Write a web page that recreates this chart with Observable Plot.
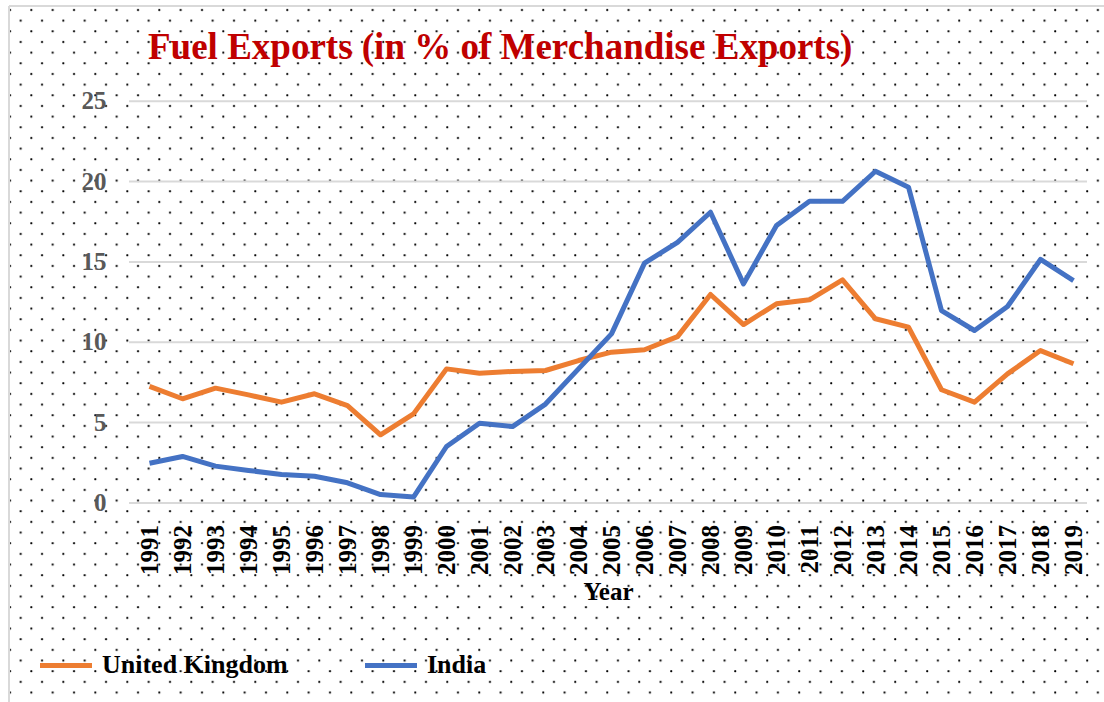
<!DOCTYPE html>
<html>
<head>
<meta charset="utf-8">
<script src="https://cdn.jsdelivr.net/npm/d3@7"></script>
<script src="https://cdn.jsdelivr.net/npm/@observablehq/plot@0.6"></script>
<style>
  html, body { margin: 0; padding: 0; background: #fff; }
  body { width: 1104px; height: 702px; position: relative; overflow: hidden;
         font-family: "Liberation Serif", "Times New Roman", serif; }
  #bg { position: absolute; left: 0; top: 0; }
  #title { position: absolute; left: 148px; top: 28px; font-size: 37px; line-height: 37px;
           font-weight: bold; color: #C00000; white-space: nowrap; }
  #chart { position: absolute; left: 0; top: 80px; }
  #legend { position: absolute; left: 0; top: 651px; width: 1104px; height: 28px; }
  .item { position: absolute; top: 0; height: 28px; display: flex; align-items: center; }
  .sw { width: 52px; height: 5px; margin-right: 10px; }
  .lab { font-size: 26px; line-height: 26px; font-weight: bold; color: #000; white-space: nowrap; }
</style>
</head>
<body>
<svg id="bg" width="1104" height="702">
  <defs>
    <pattern id="dots" patternUnits="userSpaceOnUse" x="5" y="5" width="21.33" height="21.33">
      <circle cx="15.7" cy="15.7" r="1.1" fill="#000"/>
      <circle cx="5.03" cy="5.03" r="1.1" fill="#000"/>
    </pattern>
  </defs>
  <rect x="0" y="0" width="1104" height="702" fill="#fff"/>
  <rect x="10" y="7" width="1094" height="695" fill="url(#dots)"/>
  <line x1="9" y1="6" x2="1104" y2="6" stroke="#d9d9d9" stroke-width="2"/>
  <line x1="9" y1="6" x2="9" y2="702" stroke="#d9d9d9" stroke-width="2"/>
</svg>
<div id="title"></div>
<div id="chart"></div>
<div id="legend"></div>
<script>
// ---- data ----
const years = [1991,1992,1993,1994,1995,1996,1997,1998,1999,2000,
               2001,2002,2003,2004,2005,2006,2007,2008,2009,2010,
               2011,2012,2013,2014,2015,2016,2017,2018,2019];
const ukValues = [7.25,6.48,7.14,6.72,6.27,6.79,6.06,4.24,5.54,8.34,
                  8.07,8.18,8.24,8.86,9.38,9.53,10.35,12.97,11.1,12.39,
                  12.64,13.88,11.46,10.94,7.04,6.27,8.03,9.48,8.66];
const indiaValues = [2.47,2.89,2.29,2.02,1.77,1.66,1.25,0.52,0.36,3.51,
                     4.96,4.75,6.15,8.34,10.52,14.92,16.22,18.09,13.63,17.26,
                     18.77,18.77,20.64,19.65,11.97,10.73,12.22,15.15,13.84];
const seriesNames = ["United Kingdom", "India"];
const seriesColors = ["#ED7D31", "#4472C4"];
const yTicks = [0, 5, 10, 15, 20, 25];
const titleText = "Fuel Exports (in % of Merchandise Exports)";
const xLabel = "Year";

const rows = [];
years.forEach((yr, i) => {
  rows.push({year: yr, series: seriesNames[0], value: ukValues[i]});
  rows.push({year: yr, series: seriesNames[1], value: indiaValues[i]});
});

const fontFamily = "'Liberation Serif', 'Times New Roman', serif";

const chart = Plot.plot({
  width: 1104,
  height: 540,
  marginTop: 20.7,
  marginBottom: 117.6,
  marginLeft: 129,
  marginRight: 17,
  style: {background: "transparent", fontFamily, overflow: "visible"},
  x: {type: "point", domain: years, range: [147, 1074], padding: 0},
  y: {domain: [0, 25]},
  color: {domain: seriesNames, range: seriesColors},
  marks: [
    Plot.gridY(yTicks, {stroke: "#d9d9d9", strokeOpacity: 1, strokeWidth: 2}),
    Plot.axisY(yTicks, {tickSize: 0, tickPadding: 23, fontSize: 25, fontWeight: "bold",
                        fill: "#595959", label: null}),
    Plot.axisX({tickRotate: -90, tickSize: 0, tickPadding: 22, fontSize: 25, fontWeight: "bold",
                fill: "#000", tickFormat: d => String(d), label: xLabel,
                labelAnchor: "center", labelOffset: 97}),
    Plot.lineY(rows, {x: "year", y: "value", stroke: "series", strokeWidth: 5,
                      strokeLinejoin: "round", strokeLinecap: "butt"})
  ]
});
document.getElementById("chart").appendChild(chart);
document.getElementById("title").textContent = titleText;

// legend
const legend = document.getElementById("legend");
const legendX = [40, 365];
seriesNames.forEach((name, i) => {
  const item = document.createElement("div");
  item.className = "item";
  item.style.left = legendX[i] + "px";
  const sw = document.createElement("div");
  sw.className = "sw";
  sw.style.background = seriesColors[i];
  const lab = document.createElement("span");
  lab.className = "lab";
  lab.textContent = name;
  item.appendChild(sw);
  item.appendChild(lab);
  legend.appendChild(item);
});
</script>
</body>
</html>
